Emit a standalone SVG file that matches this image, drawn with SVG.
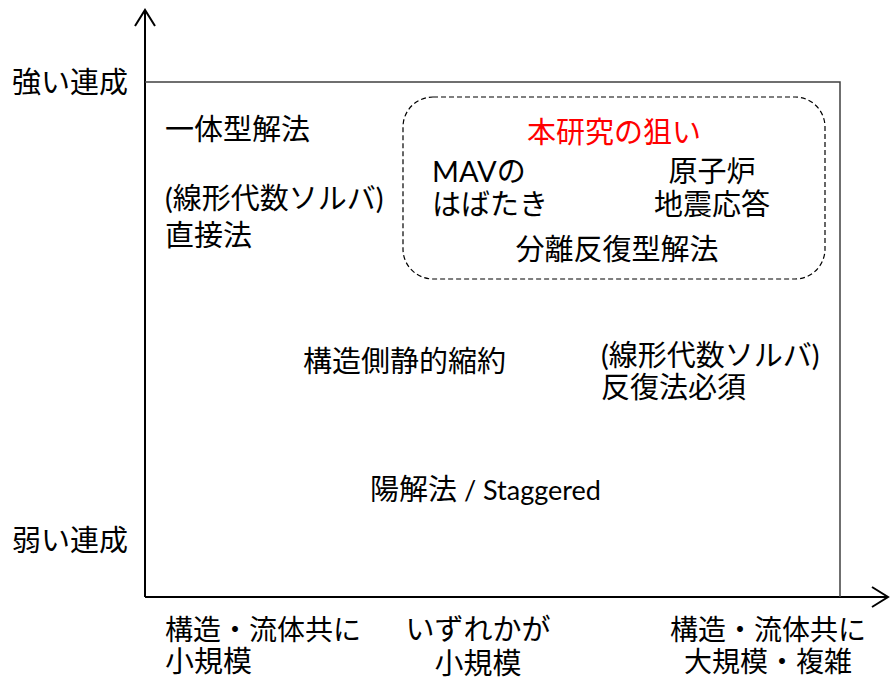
<svg xmlns="http://www.w3.org/2000/svg" width="891" height="679" viewBox="0 0 891 679">
<style>
text{font-family:"Lato","Noto Sans CJK JP",sans-serif;font-size:29px;fill:#000}
.sm{font-size:28px}
.lat{font-size:27px}
.red{fill:#ff0000}
.axis{stroke:#000;stroke-width:2;fill:none}
.frame{stroke:#404040;stroke-width:1.5;fill:none}
.dash{stroke:#000;stroke-width:1.2;fill:none;stroke-dasharray:5 3}
</style>
<defs>
<marker id="arr" markerWidth="20" markerHeight="24" refX="18" refY="12" orient="auto" markerUnits="userSpaceOnUse">
<path d="M2,2 L18,12 L2,22" fill="none" stroke="#000" stroke-width="2"/>
</marker>
</defs>
<g id="connectors">
<line class="axis" x1="145" y1="597" x2="145" y2="10" marker-end="url(#arr)"/>
<line class="axis" x1="145" y1="597" x2="888" y2="597" marker-end="url(#arr)"/>
<polyline class="frame" points="145,82 840,82 840,597"/>
</g>
<g id="ylabels">
<text x="12" y="93">強い連成</text>
<text x="12" y="551">弱い連成</text>
</g>
<g id="node-monolithic">
<text x="165" y="140">一体型解法</text>
<text x="165" y="209">(線形代数ソルバ)</text>
<text x="165" y="246">直接法</text>
</g>
<g id="node-target">
<rect class="dash" x="403" y="97" width="422" height="182" rx="30" ry="30"/>
<text class="red" x="614" y="143" text-anchor="middle">本研究の狙い</text>
<text x="432" y="182">MAVの</text>
<text x="432" y="215">はばたき</text>
<text x="712" y="182" text-anchor="middle">原子炉</text>
<text x="712" y="215" text-anchor="middle">地震応答</text>
<text x="617" y="260" text-anchor="middle">分離反復型解法</text>
</g>
<g id="node-reduction">
<text x="303" y="372">構造側静的縮約</text>
</g>
<g id="node-iterative">
<text x="601" y="366">(線形代数ソルバ)</text>
<text x="601" y="398">反復法必須</text>
</g>
<g id="node-explicit">
<text x="370" y="500">陽解法<tspan class="lat"> / Staggered</tspan></text>
</g>
<g id="xlabels">
<text class="sm" x="165" y="640">構造・流体共に</text>
<text x="165" y="672">小規模</text>
<text x="478" y="640" text-anchor="middle">いずれかが</text>
<text x="478" y="674" text-anchor="middle">小規模</text>
<text class="sm" x="768" y="640" text-anchor="middle">構造・流体共に</text>
<text class="sm" x="768" y="672" text-anchor="middle">大規模・複雑</text>
</g>
</svg>
